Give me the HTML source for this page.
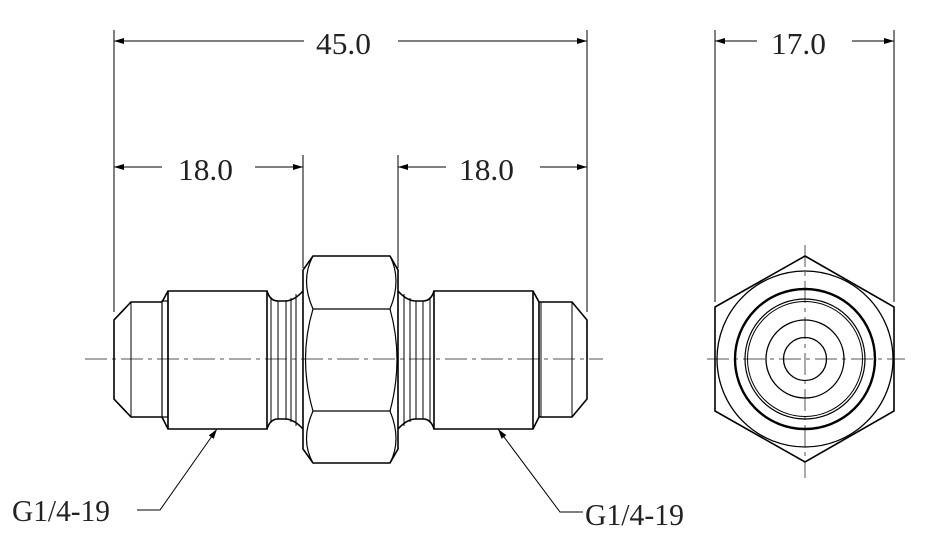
<!DOCTYPE html>
<html><head><style>body{margin:0;background:#fff}svg{display:block}</style></head><body>
<svg width="944" height="552" viewBox="0 0 944 552" xmlns="http://www.w3.org/2000/svg">
<defs>
<marker id="a" viewBox="0 0 10 6" refX="10" refY="3" markerWidth="10" markerHeight="6" markerUnits="userSpaceOnUse" orient="auto-start-reverse"><path d="M0,0L10,3L0,6z" fill="#000"/></marker>
</defs>
<g stroke="#000" stroke-width="1" fill="none">
<line x1="114" y1="30" x2="114" y2="312"/>
<line x1="587" y1="30" x2="587" y2="312"/>
<line x1="303" y1="155" x2="303" y2="268"/>
<line x1="398" y1="155" x2="398" y2="268"/>
<line x1="715" y1="30" x2="715" y2="302"/>
<line x1="894" y1="30" x2="894" y2="302"/>
<line x1="114" y1="41" x2="304" y2="41" marker-start="url(#a)"/>
<line x1="398" y1="41" x2="587" y2="41" marker-end="url(#a)"/>
<line x1="114" y1="167" x2="162" y2="167" marker-start="url(#a)"/>
<line x1="255" y1="167" x2="303" y2="167" marker-end="url(#a)"/>
<line x1="398" y1="167" x2="446" y2="167" marker-start="url(#a)"/>
<line x1="540" y1="167" x2="587" y2="167" marker-end="url(#a)"/>
<line x1="715" y1="41" x2="757" y2="41" marker-start="url(#a)"/>
<line x1="852" y1="41" x2="894" y2="41" marker-end="url(#a)"/>
<polyline points="217,429 160,510 137,510" marker-start="url(#a)"/>
<polyline points="498,429 560,512 583,512" marker-start="url(#a)"/>
<line x1="85" y1="359" x2="603" y2="359" stroke="#555" stroke-dasharray="22,5,4,5"/>
<line x1="707" y1="359" x2="905" y2="359" stroke="#555" stroke-dasharray="22,5,4,5"/>
<line x1="805" y1="245" x2="805" y2="478" stroke="#555" stroke-dasharray="22,5,4,5"/>
</g>
<g stroke="#000" stroke-width="1.6" fill="none">
<path d="M162,302 H131 L114,320 V399 L131,417 H162"/>
<line x1="131" y1="302" x2="131" y2="417" stroke-width="1"/>
<rect x="162" y="301" width="6" height="116" stroke-width="1.2"/>
<path d="M162,302 L168,291 H267 V429 H168 L162,417"/>
<line x1="168" y1="291" x2="168" y2="429"/>
<path d="M267,291 Q270,301 278,301 H285 Q294,301 303,291"/>
<path d="M267,429 Q270,419 278,419 H285 Q294,419 303,429"/>
<g stroke-width="1"><line x1="271" y1="297" x2="271" y2="423"/><line x1="278" y1="301" x2="278" y2="419"/><line x1="286" y1="301" x2="286" y2="419"/><line x1="291" y1="298" x2="291" y2="422"/><line x1="296" y1="294" x2="296" y2="426"/></g>
<path d="M313,256 H390 L398,270 V449 L390,463 H313 L303,449 V270 Z"/>
<path d="M313,256 Q300,280 313,309 H390 Q402,280 390,256" stroke-width="1.2"/>
<path d="M313,309 Q298,359 313,411 H390 Q404,359 390,309" stroke-width="1.2"/>
<path d="M313,411 Q300,440 313,463 M390,411 Q402,440 390,463" stroke-width="1.2"/>
<path d="M398,291 Q407,301 416,301 H423 Q431,301 434,291"/>
<path d="M398,429 Q407,419 416,419 H423 Q431,419 434,429"/>
<g stroke-width="1"><line x1="404" y1="294" x2="404" y2="426"/><line x1="410" y1="298" x2="410" y2="422"/><line x1="416" y1="301" x2="416" y2="419"/><line x1="423" y1="301" x2="423" y2="419"/><line x1="430" y1="297" x2="430" y2="423"/></g>
<path d="M434,291 H533 L539,302 V417 L533,429 H434 Z"/>
<line x1="533" y1="291" x2="533" y2="429"/>
<path d="M539,302 H572 L587,320 V399 L572,417 H539"/>
<line x1="541" y1="302" x2="541" y2="417" stroke-width="1"/>
<line x1="572" y1="302" x2="572" y2="417" stroke-width="1"/>
<path d="M805,256 L894,307 V411 L805,462 L715,411 V307 Z"/>
<circle cx="805" cy="359" r="88" stroke-width="1.3"/>
<circle cx="805" cy="359" r="70" stroke-width="2.4"/>
<circle cx="805" cy="359" r="60" stroke-width="1.2"/>
<circle cx="805" cy="359" r="57.5" stroke-width="1"/>
<circle cx="805" cy="359" r="39" stroke-width="1.3"/>
<circle cx="805" cy="359" r="21.5" stroke-width="1.3"/>
</g>
<g font-family="Liberation Serif, serif" font-size="31" fill="#222">
<text x="316" y="54" textLength="55" lengthAdjust="spacingAndGlyphs">45.0</text>
<text x="178" y="180" textLength="55" lengthAdjust="spacingAndGlyphs">18.0</text>
<text x="459" y="180" textLength="55" lengthAdjust="spacingAndGlyphs">18.0</text>
<text x="771" y="54" textLength="55" lengthAdjust="spacingAndGlyphs">17.0</text>
<text x="12" y="521" textLength="98" lengthAdjust="spacingAndGlyphs">G1/4-19</text>
<text x="585" y="525" textLength="99" lengthAdjust="spacingAndGlyphs">G1/4-19</text>
</g>
</svg>
</body></html>
